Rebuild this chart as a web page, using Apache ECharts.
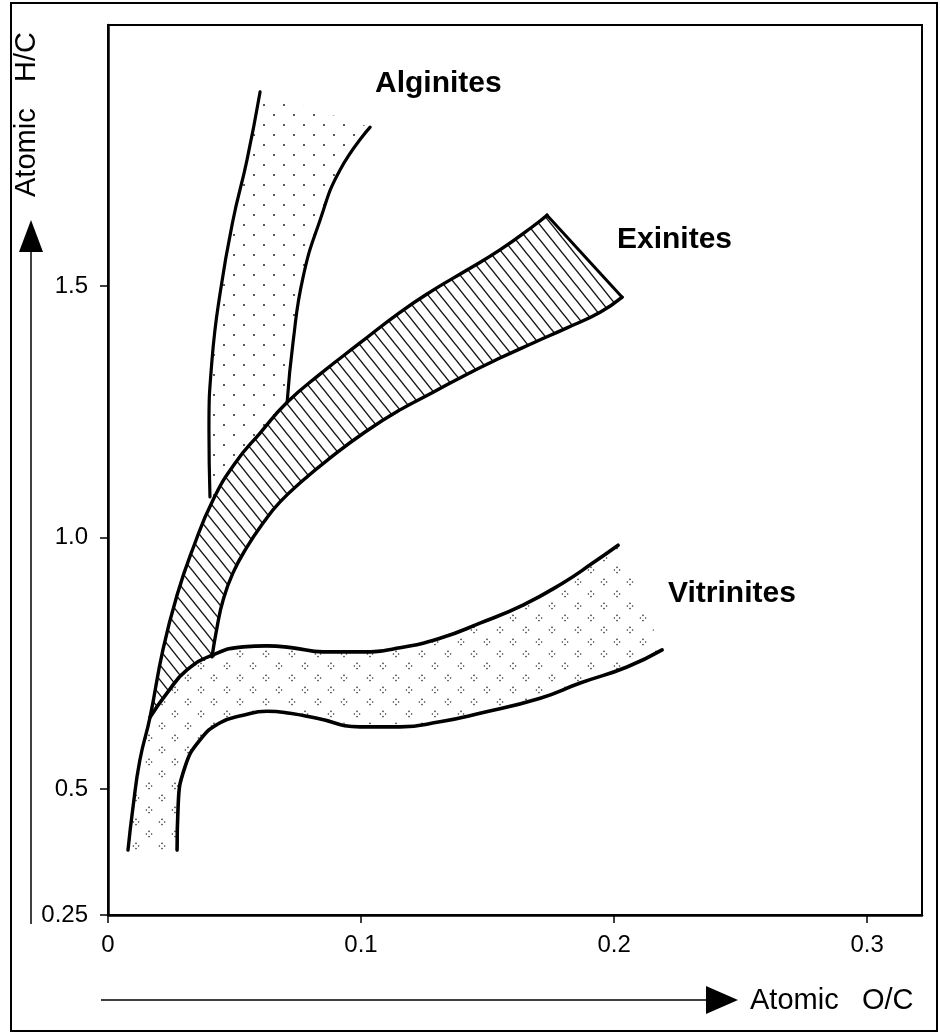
<!DOCTYPE html>
<html>
<head>
<meta charset="utf-8">
<script src="https://cdn.jsdelivr.net/npm/echarts@6/dist/echarts.min.js"></script>
<style>
  html, body { margin: 0; padding: 0; background: #fff; }
  #chart { width: 940px; height: 1034px; }
</style>
</head>
<body>
<div id="chart"></div>
<script>
// Axis ticks and their labels
const xTicks = [0, 0.1, 0.2, 0.3];
const xTickLabels = ['0', '0.1', '0.2', '0.3'];
const yTicks = [0.25, 0.5, 1.0, 1.5];
const yTickLabels = ['0.25', '0.5', '1.0', '1.5'];

// Outer boundary: from the foot of the vitrinite band up the exinite band to its tip
const outerCurve = [
  [0.0079, 0.379], [0.0099, 0.465], [0.0126, 0.558], [0.0166, 0.643],
  [0.0217, 0.777], [0.0273, 0.886], [0.0336, 0.979], [0.0415, 1.075],
  [0.0502, 1.148], [0.0601, 1.208], [0.0708, 1.269], [0.0838, 1.325],
  [0.0996, 1.387], [0.1154, 1.448], [0.1285, 1.492], [0.1419, 1.532],
  [0.1549, 1.572], [0.1680, 1.619], [0.1735, 1.641]
];

// Alginite band edges (top to bottom)
const alginiteLeft = [
  [0.0601, 1.886], [0.0549, 1.750], [0.0494, 1.631], [0.0443, 1.486],
  [0.0411, 1.353], [0.0399, 1.214], [0.0403, 1.081]
];
const alginiteRight = [
  [0.1036, 1.816], [0.0917, 1.731], [0.0838, 1.631], [0.0771, 1.518],
  [0.0731, 1.387], [0.0708, 1.269]
];

// Exinite band: lower edge and the closing edge at its upper end
const exiniteLower = [
  [0.0411, 0.763], [0.0431, 0.822], [0.0455, 0.876], [0.0494, 0.930],
  [0.0549, 0.981], [0.0613, 1.029], [0.0680, 1.071], [0.0771, 1.114],
  [0.0877, 1.158], [0.1016, 1.210], [0.1154, 1.254], [0.1285, 1.289],
  [0.1419, 1.325], [0.1549, 1.357], [0.1680, 1.387], [0.1814, 1.417],
  [0.1945, 1.448], [0.2032, 1.478]
];
const exiniteEnd = [[0.1735, 1.641], [0.2032, 1.478]];

// Vitrinite band edges (left to right)
const vitriniteUpper = [
  [0.0166, 0.643], [0.0233, 0.691], [0.0312, 0.737], [0.0415, 0.767],
  [0.0534, 0.783], [0.0628, 0.785], [0.0731, 0.781], [0.0850, 0.773],
  [0.0996, 0.773], [0.1154, 0.781], [0.1312, 0.800], [0.1470, 0.830],
  [0.1640, 0.866], [0.1798, 0.910], [0.1917, 0.950], [0.2016, 0.985]
];
const vitriniteLower = [
  [0.0273, 0.379], [0.0277, 0.465], [0.0304, 0.544], [0.0364, 0.598],
  [0.0443, 0.632], [0.0534, 0.647], [0.0628, 0.655], [0.0719, 0.651],
  [0.0826, 0.641], [0.0996, 0.624], [0.1154, 0.624], [0.1312, 0.634],
  [0.1470, 0.651], [0.1708, 0.681], [0.1866, 0.711], [0.2051, 0.743],
  [0.2190, 0.777]
];

// Closed outlines of the three shaded fields, assembled from the edges above
const alginiteArea = alginiteLeft
  .concat(outerCurve.slice(7, 11))
  .concat(alginiteRight.slice(0, 5).reverse());
const exiniteArea = outerCurve.slice(3)
  .concat([exiniteEnd[1]])
  .concat(exiniteLower.slice().reverse())
  .concat([vitriniteUpper[2], vitriniteUpper[1]]);
const vitriniteArea = outerCurve.slice(0, 4)
  .concat(vitriniteUpper.slice(1))
  .concat(vitriniteLower.slice().reverse());

// ---- fill patterns ----
function makeTile(w, h, draw) {
  const c = document.createElement('canvas');
  c.width = w; c.height = h;
  const ctx = c.getContext('2d');
  draw(ctx, w, h);
  return { type: 'pattern', image: c, repeat: 'repeat' };
}
function dot(ctx, x, y, r) {
  ctx.beginPath(); ctx.arc(x, y, r, 0, Math.PI * 2); ctx.fill();
}
// sparse single dots
const dotPattern = makeTile(20, 20, (ctx) => {
  ctx.fillStyle = '#222';
  dot(ctx, 4, 5, 1.0);
  dot(ctx, 14, 15, 1.0);
});
// diagonal hatching
const hatchPattern = makeTile(12, 15, (ctx, w, h) => {
  ctx.strokeStyle = '#111';
  ctx.lineWidth = 1.4;
  for (const dx of [-w, 0, w]) {
    ctx.beginPath();
    ctx.moveTo(dx - w * 0.2, -h * 0.2);
    ctx.lineTo(dx + w * 1.2, h * 1.2);
    ctx.stroke();
  }
});
// small dot clusters
const clusterPattern = makeTile(26, 24, (ctx) => {
  ctx.fillStyle = '#333';
  const cluster = (cx, cy) => {
    dot(ctx, cx - 2.6, cy, 0.8); dot(ctx, cx + 2.6, cy, 0.8);
    dot(ctx, cx, cy - 2.6, 0.8); dot(ctx, cx, cy + 2.6, 0.8);
  };
  cluster(6, 6);
  cluster(19, 18);
});

function areaSeries(points, fill) {
  return {
    type: 'custom',
    z: 1,
    silent: true,
    data: [[points[0][0], points[0][1]]],
    renderItem: function (params, api) {
      return {
        type: 'polygon',
        shape: { points: points.map(p => api.coord(p)) },
        style: { fill: fill, stroke: null }
      };
    }
  };
}
function edgeSeries(points, width, smooth) {
  return {
    type: 'line',
    z: 3,
    silent: true,
    data: points,
    showSymbol: false,
    symbol: 'none',
    smooth: smooth,
    lineStyle: { color: '#000', width: width, cap: 'round', join: 'round' }
  };
}

const pickLabel = (ticks, labels) => (v) => {
  for (let i = 0; i < ticks.length; i++) {
    if (Math.abs(ticks[i] - v) < 1e-9) return labels[i];
  }
  return '';
};

const FONT = '"Liberation Sans", Arial, Helvetica, sans-serif';

const chart = echarts.init(document.getElementById('chart'), null, { renderer: 'canvas' });
chart.setOption({
  animation: false,
  backgroundColor: '#fff',
  grid: {
    left: 108, top: 25, right: 18, bottom: 119,
    show: true, borderColor: '#000', borderWidth: 2,
    backgroundColor: 'transparent',
    outerBoundsMode: 'none'
  },
  xAxis: {
    type: 'value', min: 0, max: 0.3217,
    splitLine: { show: false },
    axisLine: { show: true, onZero: false, lineStyle: { color: '#000', width: 2.5 } },
    axisTick: { show: true, customValues: xTicks, length: 8, lineStyle: { color: '#000', width: 1.5 } },
    axisLabel: {
      customValues: xTicks, formatter: pickLabel(xTicks, xTickLabels),
      color: '#000', fontSize: 24, fontFamily: FONT, margin: 18
    }
  },
  yAxis: {
    type: 'value', min: 0.25, max: 2.019,
    splitLine: { show: false },
    axisLine: { show: true, onZero: false, lineStyle: { color: '#000', width: 2.5 } },
    axisTick: { show: true, customValues: yTicks, length: 8, lineStyle: { color: '#000', width: 1.5 } },
    axisLabel: {
      customValues: yTicks, formatter: pickLabel(yTicks, yTickLabels),
      color: '#000', fontSize: 24, fontFamily: FONT, margin: 20
    }
  },
  series: [
    areaSeries(vitriniteArea, clusterPattern),
    areaSeries(exiniteArea, hatchPattern),
    areaSeries(alginiteArea, dotPattern),
    edgeSeries(outerCurve, 3.4, 0.5),
    edgeSeries(alginiteLeft, 3.2, 0.5),
    edgeSeries(alginiteRight, 3.2, 0.5),
    edgeSeries(exiniteLower, 3.4, 0.5),
    edgeSeries(exiniteEnd, 3, false),
    edgeSeries(vitriniteUpper, 3.6, 0.5),
    edgeSeries(vitriniteLower, 3.6, 0.5)
  ],
  graphic: [
    { type: 'rect', silent: true, z: 0,
      shape: { x: 11, y: 3, width: 926, height: 1028 },
      style: { fill: 'none', stroke: '#000', lineWidth: 2 } },
    // vertical axis arrow and title
    { type: 'line', silent: true, shape: { x1: 31, y1: 248, x2: 31, y2: 924 },
      style: { stroke: '#000', lineWidth: 1.5 } },
    { type: 'polygon', silent: true, shape: { points: [[19, 252], [31, 220], [43, 252]] },
      style: { fill: '#000' } },
    { type: 'text', silent: true, x: 27, y: 197, rotation: Math.PI / 2,
      style: { text: 'Atomic', font: '29px ' + FONT, fill: '#000',
               align: 'left', textAlign: 'left', verticalAlign: 'middle', textVerticalAlign: 'middle' } },
    { type: 'text', silent: true, x: 27, y: 82, rotation: Math.PI / 2,
      style: { text: 'H/C', font: '29px ' + FONT, fill: '#000',
               align: 'left', textAlign: 'left', verticalAlign: 'middle', textVerticalAlign: 'middle' } },
    // horizontal axis arrow and title
    { type: 'line', silent: true, shape: { x1: 101, y1: 1000, x2: 710, y2: 1000 },
      style: { stroke: '#000', lineWidth: 1.5 } },
    { type: 'polygon', silent: true, shape: { points: [[706, 986], [738, 1000], [706, 1014]] },
      style: { fill: '#000' } },
    { type: 'text', silent: true, x: 750, y: 1001,
      style: { text: 'Atomic', font: '29px ' + FONT, fill: '#000',
               align: 'left', textAlign: 'left', verticalAlign: 'middle', textVerticalAlign: 'middle' } },
    { type: 'text', silent: true, x: 862, y: 1001,
      style: { text: 'O/C', font: '29px ' + FONT, fill: '#000',
               align: 'left', textAlign: 'left', verticalAlign: 'middle', textVerticalAlign: 'middle' } },
    // field names
    { type: 'text', silent: true, x: 375, y: 84,
      style: { text: 'Alginites', font: 'bold 30px ' + FONT, fill: '#000',
               align: 'left', textAlign: 'left', verticalAlign: 'middle', textVerticalAlign: 'middle' } },
    { type: 'text', silent: true, x: 617, y: 240,
      style: { text: 'Exinites', font: 'bold 30px ' + FONT, fill: '#000',
               align: 'left', textAlign: 'left', verticalAlign: 'middle', textVerticalAlign: 'middle' } },
    { type: 'text', silent: true, x: 668, y: 594,
      style: { text: 'Vitrinites', font: 'bold 30px ' + FONT, fill: '#000',
               align: 'left', textAlign: 'left', verticalAlign: 'middle', textVerticalAlign: 'middle' } }
  ]
});
</script>
</body>
</html>
